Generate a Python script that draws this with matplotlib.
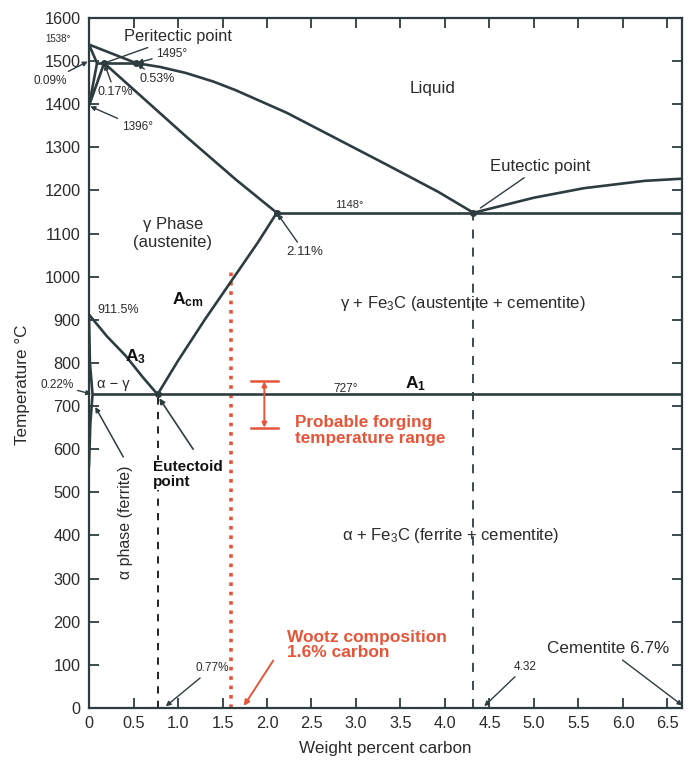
import matplotlib
matplotlib.use("Agg")
import matplotlib.pyplot as plt

plt.rcParams['font.family'] = ['Liberation Sans', 'DejaVu Sans']
plt.rcParams['mathtext.fontset'] = 'custom'
plt.rcParams['mathtext.rm'] = 'Liberation Sans'
plt.rcParams['mathtext.it'] = 'Liberation Sans:italic'
plt.rcParams['mathtext.bf'] = 'Liberation Sans:bold'

# ---------------- data (wt% C, temperature degC) ----------------
liquidus_x = [0.0, 0.53, 0.8, 1.09, 1.4, 1.65, 2.22, 2.79, 3.35, 3.92, 4.32]
liquidus_T = [1538, 1495, 1486, 1472, 1452, 1432, 1380, 1319, 1259, 1197, 1148]
liquidus2_x = [4.32, 5.0, 5.56, 6.24, 6.66]
liquidus2_T = [1148, 1183, 1205, 1222, 1227]
delta_sol_x = [0.0, 0.09]
delta_sol_T = [1538, 1495]
delta_low_x = [0.09, 0.0, 0.17]
delta_low_T = [1495, 1396, 1495]
peritectic_x = [0.09, 0.53]
peritectic_T = [1495, 1495]
gamma_sol_x = [0.17, 1.09, 1.65, 2.11]
gamma_sol_T = [1495, 1325, 1225, 1148]
eutectic_x = [2.11, 6.66]
eutectic_T = [1148, 1148]
acm_x = [0.77, 1.0, 1.3, 1.6, 1.9, 2.11]
acm_T = [727, 805, 900, 990, 1080, 1148]
a3_x = [0.0, 0.2, 0.41, 0.6, 0.77]
a3_T = [912, 862, 817, 768, 727]
ferrite_x = [0.0, 0.01, 0.04, 0.015, 0.0]
ferrite_T = [912, 800, 727, 660, 560]
a1_x = [0.04, 6.66]
a1_T = [727, 727]
key_points_x = [0.17, 0.53, 2.11, 4.32, 0.77]
key_points_T = [1495, 1495, 1148, 1148, 727]
eutectoid_c = 0.77
eutectoid_T = 727
eutectic_c = 4.32
eutectic_temp = 1148
wootz_c = 1.6
wootz_top = 1010
forge_c = 1.97
forge_lo = 650
forge_hi = 757

x_ticks = [0, 0.5, 1.0, 1.5, 2.0, 2.5, 3.0, 3.5, 4.0, 4.5, 5.0, 5.5, 6.0, 6.5]
x_tick_labels = ['0', '0.5', '1.0', '1.5', '2.0', '2.5', '3.0', '3.5', '4.0',
                 '4.5', '5.0', '5.5', '6.0', '6.5']
y_ticks = list(range(0, 1700, 100))

# ---------------- style ----------------
LINE = '#2e3c40'
TXT = '#2b2b2b'
RED = '#e6553a'

fig = plt.figure(figsize=(6.9, 7.61), dpi=100)
ax = fig.add_axes([0.129, 0.0696, 0.859, 0.907])
ax.set_xlim(0, 6.66)
ax.set_ylim(0, 1600)

for side in ['left', 'right', 'top', 'bottom']:
    ax.spines[side].set_color(LINE)
    ax.spines[side].set_linewidth(1.6)

ax.set_xticks(x_ticks)
ax.set_xticklabels(x_tick_labels)
ax.set_yticks(y_ticks)
ax.tick_params(direction='in', length=7, width=1.3, color=LINE,
               top=True, right=True, labelsize=11.7, labelcolor=TXT, pad=6)

lw = 1.9
for xs, ts in [(liquidus_x, liquidus_T), (liquidus2_x, liquidus2_T),
               (delta_sol_x, delta_sol_T), (delta_low_x, delta_low_T),
               (peritectic_x, peritectic_T), (gamma_sol_x, gamma_sol_T),
               (eutectic_x, eutectic_T), (acm_x, acm_T), (a3_x, a3_T),
               (ferrite_x, ferrite_T), (a1_x, a1_T)]:
    ax.plot(xs, ts, color=LINE, lw=lw, solid_capstyle='round',
            solid_joinstyle='round', zorder=3)

ax.plot(key_points_x, key_points_T, 'o', color=LINE, ms=4, zorder=4)

# dashed verticals
ax.plot([eutectoid_c, eutectoid_c], [0, eutectoid_T], color='#111111', lw=1.3,
        dashes=(4, 4), zorder=2)
ax.plot([eutectic_c, eutectic_c], [0, eutectic_temp], color=LINE, lw=1.3,
        dashes=(5, 5), zorder=2)

# wootz dotted red line
ax.plot([wootz_c, wootz_c], [0, wootz_top], color=RED, lw=2.6,
        dashes=(1.0, 1.6), zorder=2)

# forging range
ax.annotate('', xy=(forge_c, forge_hi), xytext=(forge_c, forge_lo),
            arrowprops=dict(arrowstyle='<|-|>', color=RED, lw=1.4,
                            mutation_scale=7, shrinkA=0, shrinkB=0))
ax.plot([forge_c - 0.15, forge_c + 0.15], [forge_hi, forge_hi], color=RED, lw=1.8)
ax.plot([forge_c - 0.15, forge_c + 0.15], [forge_lo, forge_lo], color=RED, lw=1.8)

arrow = dict(arrowstyle='-|>', color=LINE, lw=1.0, mutation_scale=7,
             shrinkA=1, shrinkB=1)
plain = dict(arrowstyle='-', color=LINE, lw=1.0, shrinkA=1, shrinkB=2)

def ann(s, xy, xytext, size=9, ap=arrow, **kw):
    ax.annotate(s, xy=xy, xytext=xytext, fontsize=size, color=TXT,
                ha=kw.pop('ha', 'center'), va=kw.pop('va', 'center'),
                arrowprops=ap, annotation_clip=False, **kw)

# top-left annotations
ax.text(-0.35, 1551, '1538°', fontsize=7, color=TXT, ha='center', va='center',
        clip_on=False)
ann('0.09%', (0.0, 1500), (-0.44, 1454), size=8.5)
ann('Peritectic point', (0.17, 1495), (1.0, 1556), size=11.8, ap=plain)
ann('1495°', (0.53, 1495), (0.93, 1517), size=8.5)
ann('0.53%', (0.53, 1495), (0.77, 1459), size=9)
ann('0.17%', (0.17, 1495), (0.29, 1428), size=9)
ann('1396°', (0.0, 1396), (0.54, 1347), size=8.5)

ax.text(3.86, 1435, 'Liquid', fontsize=12.3, color=TXT, ha='center', va='center')
ann('Eutectic point', (eutectic_c, eutectic_temp), (5.07, 1255), size=12,
    ap=dict(arrowstyle='-', color=LINE, lw=1.0, shrinkA=1, shrinkB=6))
ax.text(2.92, 1166, '1148°', fontsize=8, color=TXT, ha='center', va='center')
ann('2.11%', (2.11, 1148), (2.42, 1057), size=9.5)
ax.text(0.94, 1120, 'γ Phase', fontsize=12, color=TXT, ha='center', va='center')
ax.text(0.94, 1078, '(austenite)', fontsize=12, color=TXT, ha='center', va='center')
ax.text(1.11, 946, r'$\mathbf{A}_{\mathbf{cm}}$', fontsize=12.5, color='#111111',
        ha='center', va='center')
ax.text(0.33, 923, '911.5%', fontsize=9, color=TXT, ha='center', va='center')
ax.text(0.52, 814, r'$\mathbf{A}_{\mathbf{3}}$', fontsize=12.5, color='#111111',
        ha='center', va='center')
ax.text(0.27, 751, 'α − γ', fontsize=10.5, color=TXT, ha='center', va='center')
ann('0.22%', (0.04, 727), (-0.36, 749), size=8.5)
ax.text(2.88, 740, '727°', fontsize=8.5, color=TXT, ha='center', va='center')
ax.text(3.67, 752, r'$\mathbf{A}_{\mathbf{1}}$', fontsize=12.5, color='#111111',
        ha='center', va='center')

ax.text(0.72, 541, 'Eutectoid\npoint', fontsize=11, fontweight='bold',
        color='#111111', ha='left', va='center', linespacing=1.05, zorder=5,
        bbox=dict(facecolor='white', edgecolor='none', pad=0.5))
ax.annotate('', xy=(0.79, 718), xytext=(1.17, 600),
            arrowprops=dict(arrowstyle='-|>', color=LINE, lw=1.2,
                            mutation_scale=8, shrinkA=0, shrinkB=0))
ax.text(0.41, 431, 'α phase (ferrite)', fontsize=11.5, color=TXT, rotation=90,
        ha='center', va='center')
ax.annotate('', xy=(0.07, 698), xytext=(0.385, 582),
            arrowprops=dict(arrowstyle='-|>', color=LINE, lw=1.1,
                            mutation_scale=7, shrinkA=0, shrinkB=0))

ax.text(4.2, 937, r'γ + Fe$_3$C (austentite + cementite)', fontsize=12,
        color=TXT, ha='center', va='center')
ax.text(4.06, 401, r'α + Fe$_3$C (ferrite + cementite)', fontsize=12,
        color=TXT, ha='center', va='center')

# red texts
ax.text(2.31, 643, 'Probable forging\ntemperature range', fontsize=12.3,
        fontweight='bold', color=RED, ha='left', va='center', linespacing=1.1)
ax.text(2.22, 146, 'Wootz composition\n1.6% carbon', fontsize=12.5,
        fontweight='bold', color=RED, ha='left', va='center', linespacing=1.05)
ax.annotate('', xy=(1.74, 5), xytext=(2.07, 110),
            arrowprops=dict(arrowstyle='-|>', color=RED, lw=1.4,
                            mutation_scale=8, shrinkA=0, shrinkB=0),
            annotation_clip=False)

# bottom annotations
ann('0.77%', (0.85, 2), (1.38, 92), size=8.5)
ann('4.32', (4.43, 2), (4.9, 95), size=8.5)
ann('Cementite 6.7%', (6.68, 4), (5.83, 137), size=12.3)

fig.text(0.032, 0.494, 'Temperature °C', rotation=90, fontsize=12.3, color=TXT,
         ha='center', va='center')
fig.text(0.558, 0.017, 'Weight percent carbon', fontsize=12.3, color=TXT,
         ha='center', va='center')

fig.savefig('out.png', dpi=100, facecolor='white')
